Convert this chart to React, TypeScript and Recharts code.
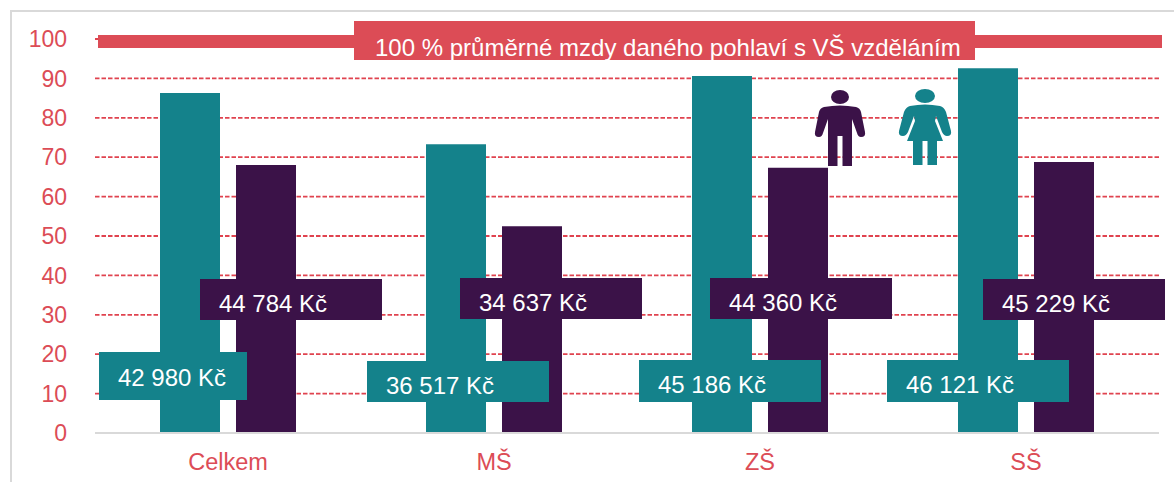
import { BarChart, Bar, XAxis, YAxis, CartesianGrid } from "recharts";

const categories = ["Celkem", "MŠ", "ZŠ", "SŠ"];
const tealValues = [86.3, 73.3, 90.6, 92.6];
const purpleValues = [68, 52.5, 67.3, 68.8];
const tealPay = ["42 980 Kč", "36 517 Kč", "45 186 Kč", "46 121 Kč"];
const purplePay = ["44 784 Kč", "34 637 Kč", "44 360 Kč", "45 229 Kč"];
const yTicks = [0, 10, 20, 30, 40, 50, 60, 70, 80, 90, 100];
const bannerText = "100 % průměrné mzdy daného pohlaví s VŠ vzděláním";

const TEAL = "#14828B";
const PURPLE = "#3B1248";
const RED = "#DC4C56";
const FONT = "'Liberation Sans', Arial, sans-serif";

const data = categories.map((name, i) => ({ name, teal: tealValues[i], purple: purpleValues[i] }));

// label boxes are free-floating in the original, so they sit over the chart
const tealBoxes = [
  { left: 99, top: 352, width: 148, height: 48 },
  { left: 367, top: 361, width: 182, height: 41 },
  { left: 639, top: 360, width: 182, height: 42 },
  { left: 887, top: 360, width: 182, height: 42 },
];
const purpleBoxes = [
  { left: 200, top: 279, width: 182, height: 41 },
  { left: 460, top: 278, width: 182, height: 41 },
  { left: 710, top: 278, width: 182, height: 41 },
  { left: 983, top: 279, width: 182, height: 41 },
];

const PayBox = ({ box, text, color }: any) => (
  <div
    style={{
      position: "absolute",
      ...box,
      background: color,
      color: "#fff",
      fontSize: 24,
      lineHeight: `${box.height + (box.height > 45 ? 4 : 8)}px`,
      paddingLeft: 19,
      boxSizing: "border-box",
      whiteSpace: "nowrap",
      overflow: "hidden",
    }}
  >
    {text}
  </div>
);

const Man = () => (
  <svg style={{ position: "absolute", left: 810, top: 85, overflow: "visible" }} width={60} height={85}>
    <g fill={PURPLE}>
      <ellipse cx={30} cy={12} rx={9} ry={7} />
      <path d="M14 22 Q30 19 46 22 Q50 23 51 27 L55 47 Q56 52 51 52 Q48 52 47 48 L42 34 L42 81 L32.5 81 L32.5 51 L27.5 51 L27.5 81 L18 81 L18 34 L13 48 Q12 52 9 52 Q4 52 5 47 L9 27 Q10 23 14 22 Z" />
    </g>
  </svg>
);

const Woman = () => (
  <svg style={{ position: "absolute", left: 895, top: 85, overflow: "visible" }} width={60} height={85}>
    <g fill={TEAL}>
      <ellipse cx={30} cy={11} rx={10} ry={7} />
      <path d="M15 21 Q30 18 45 21 Q49 22 51 27 L56 46 Q57 51 52 51 Q49 51 47 47 L41 31 L40 36 L48 56 L42 56 L42 80 L32.5 80 L32.5 56 L27.5 56 L27.5 80 L18 80 L18 56 L12 56 L20 36 L19 31 L13 47 Q11 51 8 51 Q3 51 4 46 L9 27 Q11 22 15 21 Z" />
    </g>
  </svg>
);

export default function App() {
  const yTickStyle = { fontSize: 23, fill: RED, fontFamily: FONT };
  const xTickStyle = { fontSize: 23.5, fill: RED, fontFamily: FONT };
  return (
    <div style={{ position: "fixed", left: 0, top: 0, width: 1174, height: 482, overflow: "hidden", background: "#fff", fontFamily: FONT }}>
      {/* slide frame */}
      <div style={{ position: "absolute", left: 10, top: 10, width: 1200, height: 500, border: "2px solid #D9D9D9" }} />

      <div style={{ position: "absolute", left: 0, top: 0 }}>
        <BarChart
          width={1174}
          height={482}
          data={data}
          margin={{ top: 39, right: 15, bottom: 0, left: 0 }}
          barSize={60}
          barGap={16}
        >
          <CartesianGrid vertical={false} stroke="#E0434F" strokeWidth={1.8} strokeDasharray="4.5 2" />
          <XAxis
            dataKey="name"
            height={49}
            tick={xTickStyle}
            tickLine={false}
            axisLine={{ stroke: "#D9D9D9", strokeWidth: 2 }}
            tickMargin={14}
          />
          <YAxis
            width={95}
            domain={[0, 100]}
            ticks={yTicks}
            interval={0}
            tick={yTickStyle}
            tickLine={false}
            axisLine={false}
            tickMargin={22}
          />
          <Bar dataKey="teal" fill={TEAL} isAnimationActive={false} />
          <Bar dataKey="purple" fill={PURPLE} isAnimationActive={false} />
        </BarChart>
      </div>

      {/* thick 100 % bar with its caption */}
      <div style={{ position: "absolute", left: 98, top: 35, width: 1064, height: 13, background: RED }} />
      <div
        style={{
          position: "absolute",
          left: 354,
          top: 21,
          width: 621,
          height: 39,
          background: RED,
          color: "#fff",
          fontSize: 24,
          lineHeight: "54px",
          paddingLeft: 21,
          boxSizing: "border-box",
          whiteSpace: "nowrap",
          overflow: "hidden",
        }}
      >
        {bannerText}
      </div>

      {tealPay.map((t, i) => (
        <PayBox key={t} box={tealBoxes[i]} text={t} color={TEAL} />
      ))}
      {purplePay.map((t, i) => (
        <PayBox key={t} box={purpleBoxes[i]} text={t} color={PURPLE} />
      ))}

      <Man />
      <Woman />
    </div>
  );
}
